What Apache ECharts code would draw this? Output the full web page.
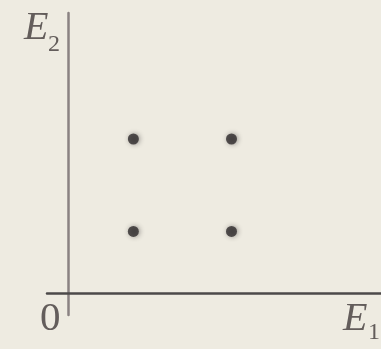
<!DOCTYPE html>
<html>
<head>
<meta charset="utf-8">
<script src="https://cdn.jsdelivr.net/npm/echarts@6/dist/echarts.min.js"></script>
<style>
  html, body { margin: 0; padding: 0; background: #eeebe1; }
  #chart { width: 381px; height: 349px; }
</style>
</head>
<body>
<div id="chart"></div>
<script>
// Energy levels of the two subsystems
const e1Levels = [2, 5, 2, 5];
const e2Levels = [5, 5, 2, 2];
const originLabel = '0';
const xAxisName = 'E';
const xAxisSub = '1';
const yAxisName = 'E';
const yAxisSub = '2';

const points = e1Levels.map((x, i) => [x, e2Levels[i]]);

const chart = echarts.init(document.getElementById('chart'), null, { renderer: 'canvas' });

const serif = '"Liberation Serif", "DejaVu Serif", serif';
const textColor = '#635d5b';

function label(text, left, top, size, italic) {
  return {
    type: 'text',
    left: left,
    top: top,
    style: {
      text: text,
      fontFamily: serif,
      fontStyle: italic ? 'italic' : 'normal',
      fontSize: size,
      fill: textColor
    }
  };
}

chart.setOption({
  backgroundColor: '#eeebe1',
  animation: false,
  grid: { left: 47, right: 0, top: 13, bottom: 34 },
  xAxis: {
    type: 'value',
    min: -0.64,
    max: 9.57,
    axisLine: { show: true, onZero: true, lineStyle: { color: '#4c4949', width: 2.5 } },
    axisTick: { show: false },
    axisLabel: { show: false },
    splitLine: { show: false }
  },
  yAxis: {
    type: 'value',
    min: -0.714,
    max: 9.09,
    axisLine: { show: true, onZero: true, lineStyle: { color: '#8a8282', width: 2.5 } },
    axisTick: { show: false },
    axisLabel: { show: false },
    splitLine: { show: false }
  },
  series: [{
    type: 'scatter',
    data: points,
    symbol: 'circle',
    symbolSize: 11,
    itemStyle: {
      color: '#2e2a2c',
      shadowColor: 'rgba(40,36,38,0.55)',
      shadowBlur: 5,
      shadowOffsetX: 1
    }
  }],
  graphic: [
    label(yAxisName, 24, 8, 40, true),
    label(yAxisSub, 48, 33, 24, false),
    label(originLabel, 40, 299, 41, false),
    label(xAxisName, 343, 299, 40, true),
    label(xAxisSub, 368, 321, 24, false)
  ]
});
</script>
</body>
</html>
